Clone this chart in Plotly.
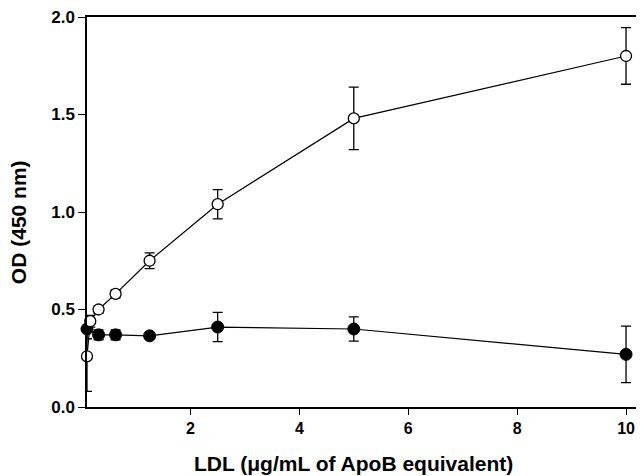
import plotly.graph_objects as go

# Open circles series
open_x = [0.1, 0.16, 0.3125, 0.625, 1.25, 2.5, 5, 10]
open_y = [0.26, 0.44, 0.50, 0.58, 0.75, 1.04, 1.48, 1.80]
open_err = [0.18, 0.03, 0.02, 0.02, 0.04, 0.075, 0.16, 0.145]

# Filled circles series
fill_x = [0.1, 0.3125, 0.625, 1.25, 2.5, 5, 10]
fill_y = [0.40, 0.37, 0.37, 0.365, 0.41, 0.40, 0.27]
fill_err = [0.05, 0.025, 0.025, 0.015, 0.075, 0.062, 0.145]

x_ticks = [2, 4, 6, 8, 10]
y_ticks = [0.0, 0.5, 1.0, 1.5, 2.0]

x_title = "LDL (μg/mL of ApoB equivalent)"
y_title = "OD (450 nm)"

FONT = "Liberation Sans, Arial, sans-serif"

fig = go.Figure()
fig.add_trace(go.Scatter(
    x=fill_x, y=fill_y, mode="lines+markers",
    line=dict(color="black", width=1.2),
    marker=dict(symbol="circle", size=12, color="black", line=dict(color="black", width=1)),
    error_y=dict(type="data", array=fill_err, visible=True, color="black", thickness=1.3, width=5),
    cliponaxis=False, showlegend=False,
))
fig.add_trace(go.Scatter(
    x=open_x, y=open_y, mode="lines+markers",
    line=dict(color="black", width=1.2),
    marker=dict(symbol="circle", size=11, color="white", line=dict(color="black", width=1.3)),
    error_y=dict(type="data", array=open_err, visible=True, color="black", thickness=1.3, width=5),
    cliponaxis=False, showlegend=False,
))

fig.update_layout(
    width=644, height=476,
    margin=dict(l=79, r=8, t=9, b=77),
    plot_bgcolor="white", paper_bgcolor="white",
    font=dict(family=FONT, color="black"),
    xaxis=dict(
        range=[0.1, 10.33], tickvals=x_ticks, ticktext=[str(v) for v in x_ticks],
        showgrid=False, zeroline=False, automargin=False, ticklabeloverflow="allow",
        showline=True, linecolor="black", linewidth=1.5, mirror=True,
        ticks="outside", ticklen=6, tickwidth=1.3, tickcolor="black",
        tickfont=dict(family=FONT, size=16, color="black", weight="bold"),
    ),
    yaxis=dict(
        range=[0, 2.0], tickvals=y_ticks, tickformat=".1f",
        showgrid=False, zeroline=False, automargin=False, ticklabeloverflow="allow",
        showline=True, linecolor="black", linewidth=1.5, mirror=False,
        ticks="outside", ticklen=7, tickwidth=1.3, tickcolor="black",
        tickfont=dict(family=FONT, size=17, color="black", weight="bold"),
    ),
    annotations=[
        dict(text=x_title, xref="paper", yref="paper", x=0.479, y=-0.1436,
             xanchor="center", yanchor="middle", showarrow=False,
             font=dict(family=FONT, size=21, color="black", weight="bold")),
        dict(text=y_title, xref="paper", yref="paper", x=-0.1239, y=0.474,
             xanchor="center", yanchor="middle", showarrow=False, textangle=-90,
             font=dict(family=FONT, size=21, color="black", weight="bold")),
    ],
)

fig.write_html("out.html")
